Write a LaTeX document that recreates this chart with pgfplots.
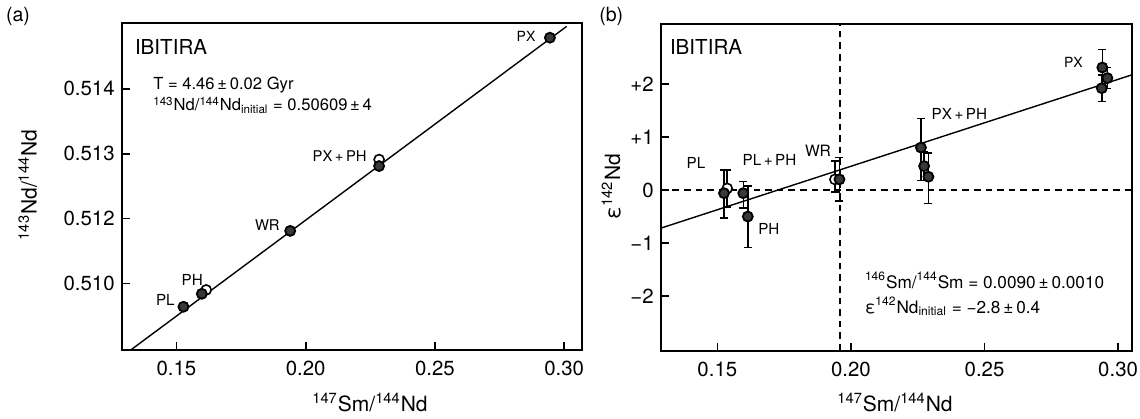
\documentclass[border=0pt]{standalone}
\usepackage{fontspec}
\setmainfont{TeX Gyre Heros}
\usepackage{pgfplots}
\pgfplotsset{compat=1.18}
\newcommand\fs[1]{\fontsize{#1}{#1}\selectfont}
\pgfplotsset{
  mystyle/.style={
    scale only axis,
    anchor=south west,
    tick align=inside,
    xtick pos=bottom, ytick pos=left,
    major tick length=4bp,
    axis line style={line width=1bp, black},
    tick style={line width=0.8bp, black},
    ticklabel style={font=\fs{10.2bp}},
    /pgf/number format/assume math mode=true,
    xticklabel style={yshift=-2.2bp},
    clip=true,
  },
  filled/.style={only marks, mark=*, mark size=2.5bp,
    mark options={fill=black!78, draw=black, line width=0.9bp}},
  open/.style={only marks, mark=*, mark size=2.5bp,
    mark options={fill=white, draw=black, line width=0.8bp}},
  ebars/.style={error bars/.cd, y dir=both, y explicit,
    error bar style={line width=0.75bp, black},
    error mark options={black, line width=0.75bp, mark size=2bp, rotate=90}},
}
\begin{document}
\begin{tikzpicture}
\useasboundingbox (0,0) rectangle (570bp,209.5bp);
% ---------- panel (a)
\begin{axis}[mystyle,
  at={(60.85bp,34.5bp)}, width=230bp, height=163.35bp,
  xmin=0.1288, xmax=0.3068, ymin=0.509973, ymax=0.515012,
  xtick={0.15,0.20,0.25,0.30}, xticklabels={0.15,0.20,0.25,0.30},
  ytick={0.511,0.512,0.513,0.514}, yticklabels={0.510,0.512,0.513,0.514},
]
\addplot[black, line width=0.7bp] coordinates {(0.1323,0.509973) (0.3010,0.514965)};
\addplot[open] coordinates {(0.1615,0.51090) (0.2284,0.51291)};
\addplot[filled] coordinates {
  (0.1527,0.51064) (0.1598,0.51084) (0.1940,0.51181) (0.2284,0.51281) (0.2945,0.51479)};
\end{axis}
% ---------- panel (b)
\begin{axis}[mystyle,
  at={(330.35bp,34.15bp)}, width=235.5bp, height=163.35bp,
  xmin=0.1288, xmax=0.3051, ymin=-3.03, ymax=3.13,
  xtick={0.15,0.20,0.25,0.30}, xticklabels={0.15,0.20,0.25,0.30},
  ytick={-2,-1,0,1,2}, yticklabels={−2,−1,0,+1,+2},
]
\addplot[black, line width=0.9bp, dash pattern=on 3.3bp off 2.5bp] coordinates {(0.1288,0) (0.3051,0)};
\addplot[black, line width=0.9bp, dash pattern=on 3.3bp off 2.5bp] coordinates {(0.196,-3.03) (0.196,3.13)};
\addplot[black, line width=0.7bp] coordinates {(0.1288,-0.72) (0.3051,2.17)};
\addplot[open, ebars]
  table[x=x, y=y, y error plus=ep, y error minus=em] {
x      y     ep    em
0.1537 0.03  0.35  0.35
0.1940 0.20  0.35  0.24
};
\addplot[filled, ebars]
  table[x=x, y=y, y error plus=ep, y error minus=em] {
x      y     ep    em
0.1525 -0.06 0.44  0.47
0.1597 -0.06 0.22  0.28
0.1614 -0.50 0.58  0.58
0.1957 0.20  0.41  0.41
0.2262 0.80  0.55  0.62
0.2274 0.45  0.27  0.27
0.2290 0.25  0.45  0.50
0.2941 2.31  0.34  0.34
0.2960 2.11  0.20  0.20
0.2939 1.92  0.25  0.25
};
\end{axis}
% ---------- texts
\begin{scope}[every node/.style={inner sep=0pt, outer sep=0pt}]
% panel a
\node[anchor=base west, font=\fs{9.8bp}] at (3bp,198.5bp) {(a)};
\node[anchor=base west, font=\fs{10.3bp}] at (67.5bp,182bp) {IBITIRA};
\node[anchor=base west, font=\fs{8.3bp}] at (76.65bp,164.85bp) {T = 4.46\,±\,0.02 Gyr};
\node[anchor=base west, font=\fs{8.3bp}] at (76.65bp,154bp) {\textsuperscript{143}Nd/\textsuperscript{144}Nd\textsubscript{initial} = 0.50609\,±\,4};
\node[anchor=base west, font=\fs{7bp}] at (258.35bp,188.65bp) {PX};
\node[anchor=base west, font=\fs{7.4bp}] at (156.35bp,128.65bp) {PX\,+\,PH};
\node[anchor=base west, font=\fs{7.4bp}] at (127.5bp,94.15bp) {WR};
\node[anchor=base west, font=\fs{7.6bp}] at (90.85bp,66.65bp) {PH};
\node[anchor=base west, font=\fs{7.6bp}] at (78bp,56.65bp) {PL};
\node[anchor=base, font=\fs{10.5bp}] at (185bp,3.65bp) {\textsuperscript{147}Sm/\textsuperscript{144}Nd};
\node[anchor=base, rotate=90, font=\fs{10.5bp}] at (18.35bp,117bp) {\textsuperscript{143}Nd/\textsuperscript{144}Nd};
% panel b
\node[anchor=base west, font=\fs{9.8bp}] at (299.65bp,198.5bp) {(b)};
\node[anchor=base west, font=\fs{10.3bp}] at (335bp,182bp) {IBITIRA};
\node[anchor=base west, font=\fs{7bp}] at (532bp,175.85bp) {PX};
\node[anchor=base west, font=\fs{7.6bp}] at (465.85bp,149.85bp) {PX\,+\,PH};
\node[anchor=base west, font=\fs{7.6bp}] at (343.35bp,125.35bp) {PL};
\node[anchor=base west, font=\fs{7.6bp}] at (371.35bp,126.5bp) {PL\,+\,PH};
\node[anchor=base west, font=\fs{7.8bp}] at (402.5bp,131.15bp) {WR};
\node[anchor=base west, font=\fs{7.6bp}] at (379.15bp,92bp) {PH};
\node[anchor=base west, font=\fs{8.6bp}] at (432.5bp,65.35bp) {\textsuperscript{146}Sm/\textsuperscript{144}Sm = 0.0090\,±\,0.0010};
\node[anchor=base west, font=\fs{8.6bp}] at (432.5bp,52.85bp) {ε\textsuperscript{142}Nd\textsubscript{initial} = −2.8\,±\,0.4};
\node[anchor=base, font=\fs{10.5bp}] at (447.5bp,3.65bp) {\textsuperscript{147}Sm/\textsuperscript{144}Nd};
\node[anchor=base, rotate=90, font=\fs{10.5bp}] at (310bp,116.15bp) {ε\textsuperscript{142}Nd};
\end{scope}
\end{tikzpicture}
\end{document}
